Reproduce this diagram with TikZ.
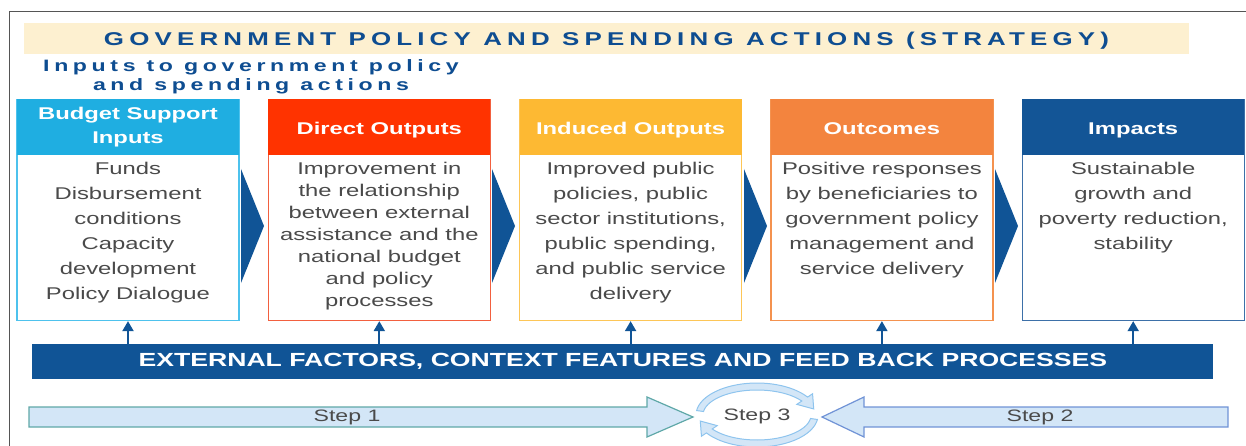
\documentclass[tikz,border=0pt]{standalone}
\usepackage{fontspec}
\setmainfont{Liberation Sans}[FakeStretch=1.4]
\newfontfamily\spacedfont{Liberation Sans}[FakeStretch=1.4,LetterSpace=28]
\usetikzlibrary{positioning}
\usetikzlibrary{arrows.meta}
\usepackage{xcolor}

\definecolor{darkblue}{HTML}{105496}
\definecolor{titleblue}{HTML}{0E4D91}
\definecolor{bandyellow}{HTML}{FDF0D0}
\definecolor{inputcyan}{HTML}{1FAEE1}
\definecolor{inputline}{HTML}{4EC2ED}
\definecolor{directred}{HTML}{FF3300}
\definecolor{directline}{HTML}{F2603F}
\definecolor{inducedyellow}{HTML}{FDB933}
\definecolor{inducedline}{HTML}{FDC657}
\definecolor{outcomeorange}{HTML}{F3843E}
\definecolor{outcomeline}{HTML}{F4924F}
\definecolor{impactblue}{HTML}{135596}
\definecolor{impactline}{HTML}{3D70A8}
\definecolor{textgray}{HTML}{4A4A4A}
\definecolor{stepfill}{HTML}{D3E6F7}
\definecolor{stepteal}{HTML}{5FA8A8}
\definecolor{stepblue}{HTML}{7093D6}
\definecolor{cycleline}{HTML}{8EC4EE}
\definecolor{framegray}{HTML}{555555}

\tikzset{
  stagebox/.style={draw, line width=1.3pt, fill=white, minimum width=222pt, minimum height=221pt, inner sep=0pt},
  stagehead/.style={anchor=north, minimum width=222pt, minimum height=56pt, inner sep=0pt, text=white, font=\bfseries\fontsize{17}{24}\selectfont, align=center},
  onelinehead/.style={text height=15pt, text depth=0pt},
  stagetext/.style={text=textgray, font=\fontsize{17}{25}\selectfont, align=center, inner sep=0pt},
  uparrow/.style={darkblue, line width=2pt, -{Triangle[width=11pt,length=10pt]}},
  chevron/.style={fill=darkblue},
  steparrow/.style={fill=stepfill, line width=1.2pt},
  cyclearrow/.style={fill=stepfill, draw=cycleline, line width=1pt},
  steplabel/.style={text=textgray, font=\fontsize{16.5}{18}\selectfont}
}

\begin{document}
\begin{tikzpicture}[x=1pt, y=-1pt, node distance=28pt]

\useasboundingbox (0,0) rectangle (1246,446);

% frame
\draw[framegray, line width=1pt] (1246,12) -- (9.5,12) -- (9.5,446);

% titles
\node[fill=bandyellow, minimum width=1165pt, minimum height=31pt, inner sep=0pt, text=titleblue,
  text height=15pt, text depth=0pt,
  font=\spacedfont\bfseries\fontsize{18.5}{20}\selectfont] (strategy) at (606.5,38.5)
  {GOVERNMENT POLICY AND SPENDING ACTIONS (STRATEGY)};
\node[text=titleblue, align=center, inner sep=0pt,
  font=\spacedfont\bfseries\fontsize{16.5}{19}\selectfont] (inputs) at (251,77)
  {Inputs to government policy\\and spending actions};

% stage boxes
\node[stagebox, draw=inputline] (b1) at (128,210) {};
\node[stagebox, draw=directline, right=of b1] (b2) {};
\node[stagebox, draw=inducedline, right=of b2] (b3) {};
\node[stagebox, draw=outcomeline, right=of b3] (b4) {};
\node[stagebox, draw=impactline, right=of b4] (b5) {};

\node[stagehead, fill=inputcyan] (h1) at (b1.north) {Budget Support\\Inputs};
\node[stagehead, onelinehead, fill=directred] (h2) at (b2.north) {Direct Outputs};
\node[stagehead, onelinehead, fill=inducedyellow] (h3) at (b3.north) {Induced Outputs};
\node[stagehead, onelinehead, fill=outcomeorange] (h4) at (b4.north) {Outcomes};
\node[stagehead, onelinehead, fill=impactblue] (h5) at (b5.north) {Impacts};

\node[stagetext, below=7pt of h1] (t1) {Funds\\Disbursement\\conditions\\Capacity\\development\\Policy Dialogue};
\node[stagetext, below=7pt of h2, font=\fontsize{17}{22}\selectfont] (t2) {Improvement in\\the relationship\\between external\\assistance and the\\national budget\\and policy\\processes};
\node[stagetext, below=7pt of h3] (t3) {Improved public\\policies, public\\sector institutions,\\public spending,\\and public service\\delivery};
\node[stagetext, below=7pt of h4] (t4) {Positive responses\\by beneficiaries to\\government policy\\management and\\service delivery};
\node[stagetext, below=7pt of h5] (t5) {Sustainable\\growth and\\poverty reduction,\\stability};

% chevrons
\foreach \x in {241,492,744,995}
  \fill[chevron] (\x,169) -- (\x+23,226) -- (\x,283) -- cycle;

% external factors
\node[fill=darkblue, minimum width=1181pt, minimum height=35pt, inner sep=0pt, text=white, font=\bfseries\fontsize{19}{21}\selectfont] (ext) at (622.9,361.5)
  {EXTERNAL FACTORS, CONTEXT FEATURES AND FEED BACK PROCESSES};

\foreach \n in {1,...,5}
  \draw[uparrow] (ext.north -| b\n.south) -- (b\n.south);

% steps
\filldraw[steparrow, draw=stepteal] (29,407) -- (647,407) -- (647,397) -- (693,417) -- (647,437) -- (647,427) -- (29,427) -- cycle;
\filldraw[steparrow, draw=stepblue] (1228,407) -- (864,407) -- (864,397) -- (822,417) -- (864,437) -- (864,427) -- (1228,427) -- cycle;

% cycle arrows
\filldraw[cyclearrow] plot[domain=-172:-34, samples=40] ({757+61*cos(\x)},{415+32*sin(\x)})
  -- ({757+67*cos(-34)},{415+38*sin(-34)}) -- ({757+58*cos(-12)},{415+29*sin(-12)}) -- ({757+48*cos(-34)},{415+19*sin(-34)})
  -- plot[domain=-34:-172, samples=40] ({757+54*cos(\x)},{415+25*sin(\x)}) -- cycle;
\filldraw[cyclearrow] plot[domain=8:146, samples=40] ({757+61*cos(\x)},{415+32*sin(\x)})
  -- ({757+67*cos(146)},{415+38*sin(146)}) -- ({757+58*cos(168)},{415+29*sin(168)}) -- ({757+48*cos(146)},{415+19*sin(146)})
  -- plot[domain=146:8, samples=40] ({757+54*cos(\x)},{415+25*sin(\x)}) -- cycle;

\node[steplabel] (step1) at (347,417) {Step 1};
\node[steplabel] (step2) at (1040,417) {Step 2};
\node[steplabel] (step3) at (757,416) {Step 3};

\end{tikzpicture}
\end{document}
